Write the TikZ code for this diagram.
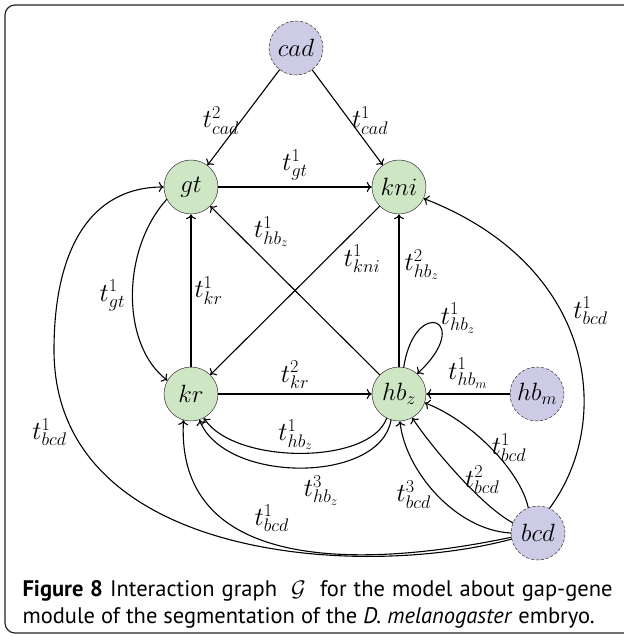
\RequirePackage{fix-cm}
\documentclass[tikz,border=0pt]{standalone}
\usepackage{fontspec}
\newfontfamily\capfont{PT Sans}
\usetikzlibrary{arrows.meta,positioning}
\definecolor{genegreen}{RGB}{207,230,197}
\definecolor{inputviolet}{RGB}{205,203,230}
\tikzstyle{every node}=[font=\fontsize{25}{30}\selectfont]
\tikzstyle{gene}=[circle,draw=black!80,line width=0.5pt,fill=genegreen,minimum size=54pt,inner sep=0pt]
\tikzstyle{input}=[gene,fill=inputviolet,dash pattern=on 3pt off 2pt]
\tikzstyle{lbl}=[inner sep=1pt,font=\fontsize{26}{31}\selectfont]
\tikzstyle{link}=[-{To[length=5pt,width=10pt]}]

\begin{document}
\begin{tikzpicture}[x=1pt,y=-1pt,line width=1.1pt,line cap=round,line join=round]
\useasboundingbox (0,0) rectangle (623,636);
\draw[rounded corners=10pt,line width=1.2pt,black!85] (5,5) rectangle (660,633);

\node[input] (cad) at (296,48) {$cad$};
\node[gene] (gt) at (191,187) {$gt$};
\node[gene] (kni) at (399,187) {$kni$};
\node[gene] (kr) at (191,394) {$kr$};
\node[gene] (hbz) at (399,394) {$hb_z$};
\node[input] (hbm) at (537,394) {$hb_m$};
\node[input] (bcd) at (538,533) {$bcd$};

% straight arcs
\draw[link] (cad) -- node[lbl,left=3pt,yshift=-3pt] {$t^2_{cad}$} (gt);
\draw[link] (cad) -- node[lbl,right=3pt,yshift=-3pt] {$t^1_{cad}$} (kni);
\draw[link] (gt) -- node[lbl,above=5pt] {$t^1_{gt}$} (kni);
\draw[link] (kr) -- node[lbl,right=2pt] {$t^1_{kr}$} (gt);
\draw[link] (hbz) -- node[lbl,pos=0.75,above right=0pt] {$t^1_{hb_z}$} (gt);
\draw[link] (kni) -- node[lbl,pos=0.22,below right=0pt] {$t^1_{kni}$} (kr);
\draw[link] (hbz) -- node[lbl,pos=0.67,right=4pt] {$t^2_{hb_z}$} (kni);
\draw[link] (kr) -- node[lbl,above=4pt] {$t^2_{kr}$} (hbz);
\draw[link] (hbm) -- node[lbl,above=4pt] {$t^1_{hb_m}$} (hbz);

% bent arcs
\draw[link] (hbz.80) .. controls (415,295) and (475,320) .. (hbz.48)
  node[lbl,pos=0.5,right=3pt,yshift=5pt] {$t^1_{hb_z}$};
\draw[link] (gt.207) .. controls (121,250) and (121,345) .. (kr.150)
  node[lbl,midway,left=6pt] {$t^1_{gt}$};
\draw[link] (hbz.243) .. controls (370,465) and (235,465) .. (kr.298)
  node[lbl,midway,above=2pt,xshift=-5pt] {$t^1_{hb_z}$};
\draw[link] (hbz.253) .. controls (380,484) and (225,484) .. (kr.288)
  node[lbl,pos=0.42,below=7pt] {$t^3_{hb_z}$};

% bcd
\draw[link] (bcd.111) .. controls (520,470) and (470,420) .. (hbz.-19)
  node[lbl,midway,right=0pt] {$t^1_{bcd}$};
\draw[link] (bcd.158) .. controls (480,505) and (430,445) .. (hbz.-61)
  node[lbl,pos=0.45,right=1pt] {$t^2_{bcd}$};
\draw[link] (bcd.180) .. controls (455,530) and (405,470) .. (hbz.-88)
  node[lbl,midway,left=4pt] {$t^3_{bcd}$};
\draw[link] (bcd.189) .. controls (380,565) and (175,580) .. (kr.254)
  node[lbl,pos=0.56,above=10pt] {$t^1_{bcd}$};
\draw[link] (bcd.193) .. controls (360,580) and (54,560) .. (54,350)
  node[lbl,pos=0.85,left=5pt] {$t^1_{bcd}$}
  .. controls (54,250) and (90,187) .. (gt.west);
\draw[link] (bcd.65) .. controls (615,420) and (595,265) .. (kni.-25)
  node[lbl,pos=0.6,right=11pt] {$t^1_{bcd}$};

\node[anchor=north west,align=left,inner sep=0pt,font=\capfont\fontsize{22.5}{27}\selectfont] (caption) at (22,580)
  {\makebox[590pt][s]{\textbf{Figure 8} Interaction graph \ $\mathcal{G}$\ \ for the model about gap-gene}\\
   module of the segmentation of the \emph{D. melanogaster} embryo.};
\end{tikzpicture}
\end{document}
